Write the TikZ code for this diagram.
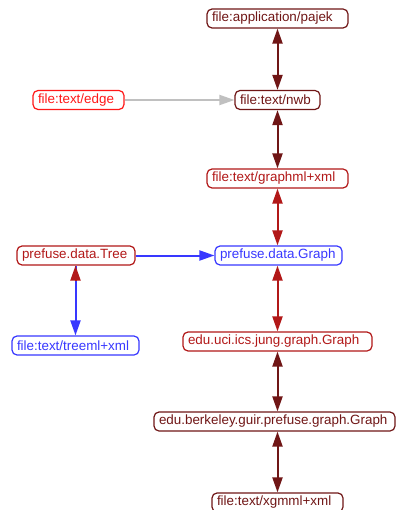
\documentclass[tikz,border=0pt]{standalone}
\usepackage{fontspec}
\setmainfont{Liberation Sans}
\usetikzlibrary{arrows.meta}
\definecolor{maroon}{RGB}{112,22,22}
\definecolor{darkred}{RGB}{178,24,24}
\definecolor{brightred}{RGB}{255,24,24}
\definecolor{linkblue}{RGB}{56,56,255}
\definecolor{linkgrey}{RGB}{192,192,192}
\tikzset{
  typebox/.style={draw=#1, text=#1, line width=1.2pt, rounded corners=5pt,
    minimum height=19pt, inner xsep=5pt, inner ysep=0pt, align=left,
    font=\fontsize{13.4pt}{15pt}\selectfont, anchor=center},
  conv/.style={draw=#1, line width=2pt},
  tip/.style={-{Triangle[length=15pt,width=10pt]}},
  bothtips/.style={{Triangle[length=15pt,width=10pt]}-{Triangle[length=15pt,width=10pt]}}
}
\begin{document}
\begin{tikzpicture}[x=1pt,y=-1pt]
\useasboundingbox (0,0) rectangle (396,510);
\fill[white] (0,0) rectangle (396,510);
\begin{scope}
\clip (0,0) rectangle (396,510);
% data type nodes
\node[typebox=maroon, text width=131pt] (pajek) at (277.5,18.5) {file:application/pajek};
\node[typebox=maroon, text width=75pt] (nwb) at (277.5,100) {file:text/nwb};
\node[typebox=brightred, text width=81pt] (edge) at (78.5,100) {file:text/edge};
\node[typebox=darkred, text width=131pt] (graphml) at (277.5,178.5) {file:text/graphml+xml};
\node[typebox=darkred, text width=108pt] (tree) at (76,255.5) {prefuse.data.Tree};
\node[typebox=linkblue, text width=117pt] (graph) at (278.5,255.5) {prefuse.data.Graph};
\node[typebox=linkblue, text width=117pt] (treeml) at (75.5,345.5) {file:text/treeml+xml};
\node[typebox=darkred, text width=179pt] (jung) at (277.5,341.5) {edu.uci.ics.jung.graph.Graph};
\node[typebox=maroon, text width=231pt] (berkeley) at (274.5,421.5) {edu.berkeley.guir.prefuse.graph.Graph};
\node[typebox=maroon, text width=121pt] (xgmml) at (277.5,502.5) {file:text/xgmml+xml};
\end{scope}
% converters
\draw[conv=maroon, bothtips] (pajek.south) -- (nwb.north);
\draw[conv=maroon, bothtips] (nwb.south) -- (graphml.north);
\draw[conv=linkgrey, tip] (edge.east) -- (nwb.west);
\draw[conv=darkred, bothtips] (graphml.south) -- (graphml.south |- graph.north);
\draw[conv=darkred, bothtips] (graphml.south |- graph.south) -- (jung.north);
\draw[conv=linkblue, tip] (tree.east) -- (graph.west);
\coordinate (treedown) at (75.5,0);
\draw[conv=linkblue, tip] (treedown |- tree.south) -- (treeml.north);
\draw[conv=darkred, tip, shorten <=55pt] (treeml.north) -- (treedown |- tree.south);
\draw[conv=maroon, bothtips] (jung.south) -- (jung.south |- berkeley.north);
\draw[conv=maroon, bothtips] (jung.south |- berkeley.south) -- (xgmml.north);
\end{tikzpicture}
\end{document}
